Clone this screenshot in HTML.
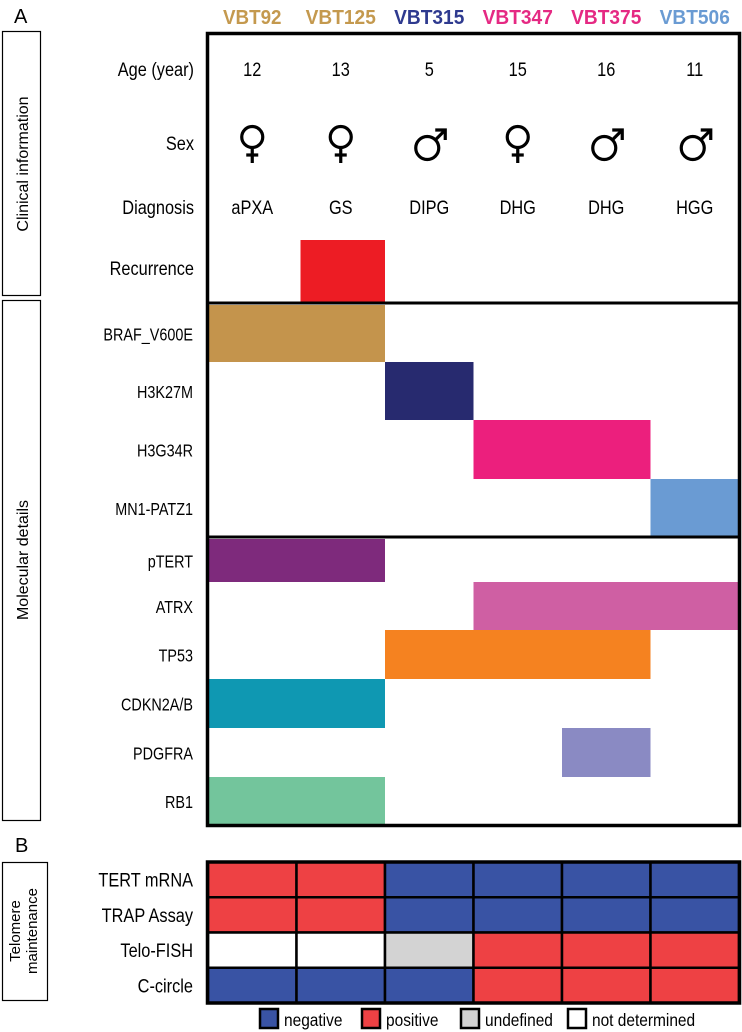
<!DOCTYPE html>
<html><head><meta charset="utf-8"><style>
html,body{margin:0;padding:0;background:#fff;}
svg{display:block;font-family:"Liberation Sans",sans-serif;}
</style></head><body>
<svg id="fig" width="742" height="1032" viewBox="0 0 742 1032">
<text x="14" y="23" font-size="20">A</text>
<text x="15" y="852" font-size="20">B</text>
<rect x="2.5" y="31.5" width="38" height="264" fill="none" stroke="#000" stroke-width="1.2"/>
<text transform="translate(28,164) rotate(-90)" text-anchor="middle" font-size="16">Clinical information</text>
<rect x="2.5" y="300.5" width="38" height="520" fill="none" stroke="#000" stroke-width="1.2"/>
<text transform="translate(28,560) rotate(-90)" text-anchor="middle" font-size="16">Molecular details</text>
<rect x="2.5" y="862.5" width="45" height="138" fill="none" stroke="#000" stroke-width="1.2"/>
<text transform="translate(20,931) rotate(-90)" text-anchor="middle" font-size="15">Telomere</text>
<text transform="translate(37,931) rotate(-90)" text-anchor="middle" font-size="15">maintenance</text>
<g id="g"></g>
</svg>
<script>
const samples=['VBT92','VBT125','VBT315','VBT347','VBT375','VBT506'];
const sampleColors=['#c4994e','#c4994e','#2e3a8f','#e52983','#e52983','#6a9bd3'];
const ages=['12','13','5','15','16','11'];
const sexes=['F','F','M','F','M','M'];
const diagnoses=['aPXA','GS','DIPG','DHG','DHG','HGG'];
const recurrence=[0,1,0,0,0,0];
const genes=['BRAF_V600E','H3K27M','H3G34R','MN1-PATZ1','pTERT','ATRX','TP53','CDKN2A/B','PDGFRA','RB1'];
const geneColors=['#c4944c','#272a6f','#ec1f7d','#6a9bd3','#7e2a7c','#cf5fa3','#f58220','#0f98b2','#8a8ac3','#73c59c'];
const geneStart=[0,2,3,5,0,3,2,0,4,0];
const geneEnd=[2,3,5,6,2,6,5,2,5,2];
const assays=['TERT mRNA','TRAP Assay','Telo-FISH','C-circle'];
const assayValues=[['pos','pos','neg','neg','neg','neg'],['pos','pos','neg','neg','neg','neg'],['nd','nd','und','pos','pos','pos'],['neg','neg','neg','pos','pos','pos']];
const statusColors={neg:'#3953a4',pos:'#ee4144',und:'#d3d3d3',nd:'#ffffff'};
const legendKeys=['neg','pos','und','nd'];
const legendLabels=['negative','positive','undefined','not determined'];

const NS='http://www.w3.org/2000/svg',G=document.getElementById('g');
function mk(t,a,txt){const e=document.createElementNS(NS,t);for(const k in a)e.setAttribute(k,a[k]);if(txt!=null)e.textContent=txt;G.appendChild(e);return e;}
const X0=208,X1=739,cw=(X1-X0)/samples.length;
const xs=i=>X0+i*cw;
const clinY=[69,143,207,268];
const geneTop=[305,362,420,479,539,582,630,679,728,777],geneBot=[362,420,479,537,582,630,679,728,777,825];
function condText(x,y,anchor,size,str,sc){sc=sc||0.86;const e=mk('text',{x:x/sc,y:y,'text-anchor':anchor,'font-size':size,transform:'scale('+sc+',1)'},str);return e;}
// headers
samples.forEach((s,i)=>{const e=mk('text',{x:xs(i)+cw/2,y:24,'text-anchor':'middle','font-size':20,'font-weight':'bold',fill:sampleColors[i],textLength:s.length*11.7,lengthAdjust:'spacingAndGlyphs'},s);

});
const clinLabels=['Age (year)','Sex','Diagnosis','Recurrence'];
clinLabels.forEach((l,j)=>{const e=condText(194,clinY[j]+7,'end',19,l);

});
samples.forEach((s,i)=>{const cx=xs(i)+cw/2;
let e=condText(cx,clinY[0]+7,'middle',19,ages[i]);


e=condText(cx,clinY[2]+7,'middle',19,diagnoses[i]);


const g=document.createElementNS(NS,'g');G.appendChild(g);


const cy=clinY[1];
if(sexes[i]==='F'){g.innerHTML=`<circle cx="${cx}" cy="${cy-6}" r="10.5" fill="none" stroke="#000" stroke-width="3.2"/><line x1="${cx}" y1="${cy+5}" x2="${cx}" y2="${cy+20}" stroke="#000" stroke-width="3.2"/><line x1="${cx-6}" y1="${cy+12}" x2="${cx+6}" y2="${cy+12}" stroke="#000" stroke-width="3.2"/>`;}
else{g.innerHTML=`<circle cx="${cx-2}" cy="${cy+5}" r="11.5" fill="none" stroke="#000" stroke-width="3.2"/><line x1="${cx+6}" y1="${cy-3}" x2="${cx+15}" y2="${cy-12}" stroke="#000" stroke-width="3.2"/><polyline points="${cx+6},${cy-13} ${cx+16},${cy-13} ${cx+16},${cy-3}" fill="none" stroke="#000" stroke-width="3.2"/>`;}
if(recurrence[i]){e=mk('rect',{x:xs(i)+4,y:240,width:cw-4,height:63,fill:'#ed1c24'});

}
});
genes.forEach((gn,j)=>{let e=condText(193,(geneTop[j]+geneBot[j])/2+7,'end',18,gn,0.8);


e=mk('rect',{x:xs(geneStart[j]),y:geneTop[j],width:(geneEnd[j]-geneStart[j])*cw,height:geneBot[j]-geneTop[j],fill:geneColors[j]});

});
let b=mk('rect',{x:207.5,y:33.5,width:532,height:792,fill:'none',stroke:'#000','stroke-width':3.5});


b=mk('line',{x1:207,y1:303,x2:741,y2:303,stroke:'#000','stroke-width':3});


b=mk('line',{x1:207,y1:537,x2:741,y2:537,stroke:'#000','stroke-width':3});


// panel B
const bTop=862,bBot=1003,rh=(bBot-bTop)/assays.length;
assays.forEach((a,j)=>{let e=condText(193,bTop+j*rh+rh/2+7,'end',19,a);


assayValues[j].forEach((v,i)=>{const c=mk('rect',{x:xs(i),y:bTop+j*rh,width:cw,height:rh,fill:statusColors[v],stroke:'#000','stroke-width':2.5});

});});
b=mk('rect',{x:207.5,y:bTop,width:532,height:bBot-bTop,fill:'none',stroke:'#000','stroke-width':3.5});


const lgX=[260,362,461,568];
legendKeys.forEach((k,i)=>{let e=mk('rect',{x:lgX[i],y:1009,width:18,height:19,fill:statusColors[k],stroke:'#000','stroke-width':2.5});


e=condText(lgX[i]+24,1026,'start',18,legendLabels[i]);

});
</script>
</body></html>
